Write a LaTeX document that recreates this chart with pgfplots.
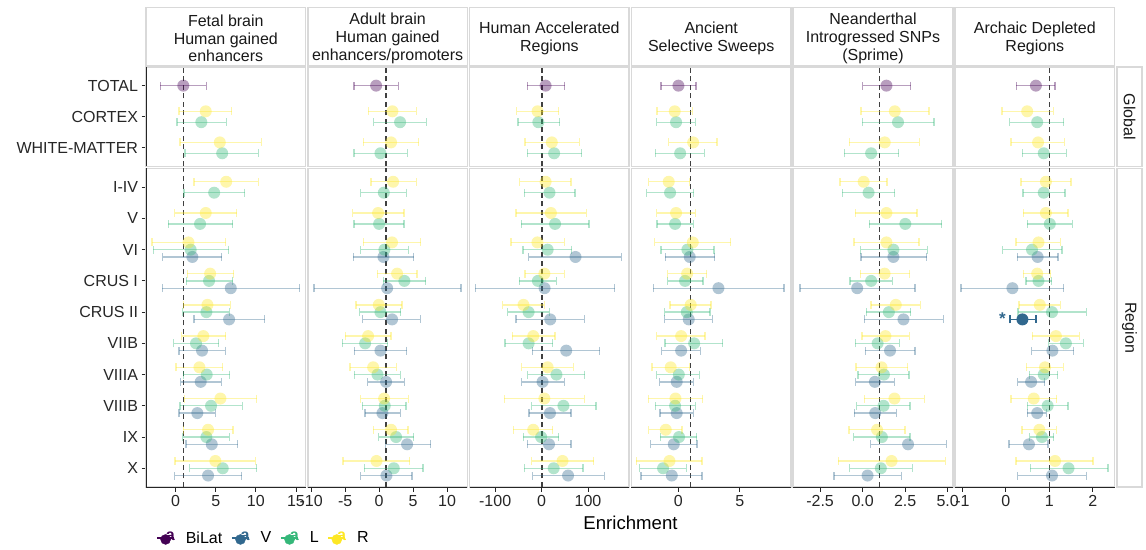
\documentclass[border=0pt]{standalone}
\usepackage{fontspec}
\setmainfont{Liberation Sans}
\usepackage{pgfplots}
\usepackage{pgfplotstable}
\pgfplotsset{compat=1.18}

\definecolor{cB}{HTML}{440154}
\definecolor{cV}{HTML}{31688E}
\definecolor{cL}{HTML}{35B779}
\definecolor{cR}{HTML}{FDE725}

% ---------- Panel a: Fetal brain ----------
\pgfplotstableread{
y x lo hi
13 0.95 -1.9 3.8
}\aB
\pgfplotstableread{
y x lo hi
12.175 3.75 0.4 7.0
11.175 5.5 0.54 10.7
10.175 6.3 2.3 10.3
9.175 3.75 -0.13 7.6
8.233 1.6 -2.96 6.25
7.233 4.3 1.45 7.25
6.233 3.96 1.0 6.8
5.233 3.45 0.75 6.25
4.233 2.96 0.04 5.87
3.233 5.58 1.08 10.1
2.233 4.04 0.95 7.16
1.233 4.95 -0.08 9.95
}\aR
\pgfplotstableread{
y x lo hi
11.825 3.2 0.16 6.3
10.825 5.8 1.16 10.3
9.825 4.8 1.04 8.6
8.825 3.04 -0.9 7.1
8 1.87 -2.8 6.6
7 4.16 1.33 7.1
6 3.83 0.87 6.7
5 2.54 -0.25 5.37
4 3.87 0.95 6.75
3 4.41 0.54 8.33
2 3.83 0.87 6.7
1 5.87 1.75 10.08
}\aL
\pgfplotstableread{
y x lo hi
7.767 2.08 -1.6 5.75
6.767 6.87 -1.67 15.45
5.767 6.66 2.3 11.1
4.767 3.29 0.41 6.2
3.767 3.12 0.62 5.7
2.767 2.7 0.41 4.95
1.767 4.5 1.29 7.75
0.767 4.04 -0.13 8.25
}\aV

% ---------- Panel b: Adult brain ----------
\pgfplotstableread{
y x lo hi
13 -0.44 -3.7 2.84
}\bB
\pgfplotstableread{
y x lo hi
12.175 1.96 -1.57 5.5
11.175 1.76 -2.3 5.83
10.175 2.06 -1.2 5.5
9.175 -0.15 -3.9 3.68
8.233 1.9 -2.35 6.1
7.233 2.65 -0.24 5.6
6.233 -0.05 -3.4 3.38
5.233 -1.62 -5.0 1.76
4.233 -0.88 -4.3 2.55
3.233 0.74 -2.7 4.31
2.233 1.76 -0.83 4.26
1.233 -0.39 -5.3 4.5
}\bR
\pgfplotstableread{
y x lo hi
11.825 3.09 -0.78 6.96
10.825 0.2 -3.68 4.17
9.825 0.69 -2.7 4.0
8.825 0.0 -3.7 3.68
8 0.78 -2.7 4.3
7 3.72 0.64 6.86
6 0.2 -2.84 3.19
5 -2.06 -5.44 1.27
4 -0.24 -3.63 3.14
3 0.83 -2.45 3.97
2 2.5 -0.05 5.1
1 2.16 -2.2 6.47
}\bL
\pgfplotstableread{
y x lo hi
7.767 0.64 -3.8 5.1
6.767 1.18 -9.6 12.06
5.767 1.91 -2.4 6.08
4.767 0.2 -3.63 4.07
3.767 1.03 -1.67 3.73
2.767 0.49 -2.06 3.14
1.767 4.12 0.98 7.6
0.767 1.08 -2.7 4.85
}\bV

% ---------- Panel c: Human Accelerated Regions ----------
\pgfplotstableread{
y x lo hi
13 8.6 -31 50
}\cB
\pgfplotstableread{
y x lo hi
12.175 -8.6 -54 37
11.175 22 -36 81
10.175 8.6 -47 63
9.175 20 -55 96
8.233 -9 -66 49
7.233 6 -36 49
6.233 -39 -84 6
5.233 -18 -63 29
4.233 13 -43 68
3.233 6 -80 92
2.233 -18 -61 24
1.233 45 -21 112
}\cR
\pgfplotstableread{
y x lo hi
11.825 -7 -51 38.6
10.825 27 -31 86
9.825 17 -37 72
8.825 29 -44 102
8 13 -40 65
7 -8 -48 32
6 -28 -73 17
5 -28 -79 24
4 32 -30 93
3 47 -21 117
2 -1 -39 37
1 26 -37 89
}\cL
\pgfplotstableread{
y x lo hi
7.767 73 -28 172
6.767 6.4 -143 157
5.767 18.6 -55 92
4.767 53 -20 125
3.767 2 -43 49
2.767 18 -27 63
1.767 16 -31 63
0.767 57 -19 135
}\cV

% ---------- Panel d: Ancient Selective Sweeps ----------
\pgfplotstableread{
y x lo hi
13 0.0 -1.41 1.44
}\dB
\pgfplotstableread{
y x lo hi
12.175 -0.3 -1.74 1.14
11.175 1.2 -0.79 3.15
10.175 -0.79 -2.42 0.92
9.175 -0.19 -1.77 1.39
8.233 1.17 -1.93 4.26
7.233 0.71 -0.87 2.3
6.233 1.0 -0.68 2.66
5.233 0.22 -1.77 2.17
4.233 -0.63 -2.15 0.92
3.233 -0.24 -2.45 1.98
2.233 -1.03 -2.42 0.3
1.233 -0.73 -3.42 1.93
}\dR
\pgfplotstableread{
y x lo hi
11.825 -0.19 -1.77 1.39
10.825 0.14 -1.87 2.12
9.825 -0.68 -2.58 1.25
8.825 -0.27 -1.74 1.2
8 0.73 -1.41 2.9
7 0.54 -0.87 2.0
6 0.68 -1.12 2.58
5 1.28 -1.09 3.61
4 0.03 -1.77 1.69
3 -0.27 -1.87 1.39
2 0.05 -1.47 1.49
1 -1.25 -3.15 0.65
}\dL
\pgfplotstableread{
y x lo hi
7.767 0.92 -1.06 2.96
6.767 3.26 -2.04 8.6
5.767 0.84 -1.12 2.77
4.767 0.22 -1.36 1.77
3.767 -0.14 -1.52 1.22
2.767 -0.14 -1.49 1.22
1.767 -0.38 -2.26 1.52
0.767 -0.54 -3.04 1.93
}\dV

% ---------- Panel e: Neanderthal SNPs ----------
\pgfplotstableread{
y x lo hi
13 1.4 0.0 2.82
}\eB
\pgfplotstableread{
y x lo hi
12.175 1.89 -0.1 3.9
11.175 1.3 -0.78 3.33
10.175 0.06 -1.33 1.44
9.175 1.4 -0.43 3.2
8.233 1.4 -0.51 3.31
7.233 1.29 -0.14 2.77
6.233 1.95 0.5 3.39
5.233 1.34 -0.04 2.75
4.233 1.11 -0.39 2.65
3.233 1.87 0.1 3.63
2.233 0.85 -0.8 2.49
1.233 1.7 -1.43 4.85
}\eR
\pgfplotstableread{
y x lo hi
11.825 2.08 -0.02 4.19
10.825 0.5 -1.08 2.12
9.825 0.35 -1.19 1.89
8.825 2.51 0.39 4.65
8 1.81 -0.12 3.8
7 0.5 -0.74 1.75
6 1.54 0.21 2.82
5 0.88 -0.43 2.16
4 1.25 -0.27 2.73
3 1.23 -0.35 2.78
2 1.13 -0.53 2.78
1 1.07 -0.76 2.92
}\eL
\pgfplotstableread{
y x lo hi
7.767 1.81 -0.1 3.76
6.767 -0.32 -3.68 3.08
5.767 2.4 0.1 4.74
4.767 1.61 0.15 3.08
3.767 0.72 -0.41 1.87
2.767 0.74 -0.49 1.97
1.767 2.67 0.47 4.91
0.767 0.29 -1.68 2.28
}\eV

% ---------- Panel f: Archaic Depleted Regions ----------
\pgfplotstableread{
y x lo hi
13 0.69 0.24 1.13
}\fB
\pgfplotstableread{
y x lo hi
12.175 0.49 -0.09 1.09
11.175 0.74 0.12 1.34
10.175 0.92 0.35 1.5
9.175 0.92 0.4 1.43
8.233 0.75 0.23 1.25
7.233 0.72 0.4 1.03
6.233 0.78 0.3 1.25
5.233 1.15 0.61 1.69
4.233 0.9 0.47 1.32
3.233 0.64 0.12 1.17
2.233 0.77 0.37 1.16
1.233 1.13 0.23 2.0
}\fR
\pgfplotstableread{
y x lo hi
11.825 0.72 0.09 1.33
10.825 0.87 0.38 1.39
9.825 0.87 0.39 1.36
8.825 1.01 0.49 1.53
8 0.6 -0.07 1.29
7 0.75 0.46 1.05
6 1.06 0.28 1.85
5 1.38 0.98 1.78
4 0.87 0.54 1.19
3 0.96 0.49 1.43
2 0.83 0.55 1.1
1 1.44 0.56 2.35
}\fL
\pgfplotstableread{
y x lo hi
7.767 0.73 0.26 1.2
6.767 0.15 -1.03 1.33
4.767 1.07 0.59 1.56
3.767 0.58 0.27 0.89
2.767 0.72 0.49 0.93
1.767 0.53 0.07 0.97
0.767 1.06 0.27 1.85
}\fV
\pgfplotstableread{
y x lo hi
5.767 0.38 0.1 0.69
}\fVsig

\pgfplotsset{
  table/tbl/.style={x=x, y=y,
    x error plus expr=\thisrow{hi}-\thisrow{x},
    x error minus expr=\thisrow{x}-\thisrow{lo}},
  ser/.style={only marks, mark=*, mark size=6pt, forget plot,
    mark options={fill=#1, fill opacity=0.38, draw opacity=0},
    error bars/x dir=both, error bars/x explicit,
    error bars/error bar style={draw=#1, line width=1.3pt, opacity=0.38},
    error bars/error mark=|,
    error bars/error mark options={draw=#1, line width=1.3pt, mark size=4pt, opacity=0.38}},
  sig/.style={only marks, mark=*, mark size=6pt, forget plot,
    mark options={fill=#1, draw opacity=0},
    error bars/x dir=both, error bars/x explicit,
    error bars/error bar style={draw=#1, line width=1.5pt},
    error bars/error mark=|,
    error bars/error mark options={draw=#1, line width=1.5pt, mark size=4pt}},
  vline/.style={forget plot, draw=black!75, line width=1.3pt, dash pattern=on 5pt off 3.5pt, no marks},
  gsel/.style={restrict y to domain=10.7:14},
  rsel/.style={restrict y to domain=0:10.65},
  facet/.style={
    scale only axis, width=159.6pt, anchor=south west,
    axis line style={draw=black!15, line width=1.6pt},
    tick align=outside, major tick length=4.5pt, tick pos=left,
    tick style={black!85, line width=0.9pt},
    tick label style={font=\fontsize{16}{18}\selectfont, text=black!85},
    /pgf/number format/assume math mode=true,
  },
  growstyle/.style={facet, height=99.5pt, ymin=10.4, ymax=13.6, xtick=\empty, ytick=\empty},
  rrowstyle/.style={facet, height=318.5pt, ymin=0.4, ymax=10.6, ytick=\empty,
    after end axis/.append code={\draw[black!85, line width=0.9pt] (rel axis cs:0,0) -- (rel axis cs:1,0);}},
  leftcol/.style={after end axis/.append code={\draw[black!85, line width=0.9pt] (rel axis cs:0,0) -- (rel axis cs:0,1);}},
}

% #1 B table, #2 R table, #3 L table, #4 left x, #5 xmin, #6 xmax, #7 options
\newcommand{\growaxis}[7]{%
\begin{axis}[growstyle, at={(#4pt,382.5pt)}, xmin=#5, xmax=#6, #7]
  \addplot[vline] coordinates {(1,10.4) (1,13.6)};
  \addplot[ser=cB, gsel] table[tbl] {#1};
  \addplot[ser=cL, gsel] table[tbl] {#3};
  \addplot[ser=cR, gsel] table[tbl] {#2};
\end{axis}}

% #1 R, #2 L, #3 V, #4 left x, #5 xmin, #6 xmax, #7 options, #8 extra body
\newcommand{\rrowaxis}[8]{%
\begin{axis}[rrowstyle, at={(#4pt,62pt)}, xmin=#5, xmax=#6, #7]
  #8
  \addplot[vline] coordinates {(1,0.4) (1,10.6)};
  \addplot[ser=cV, rsel] table[tbl] {#3};
  \addplot[ser=cL, rsel] table[tbl] {#2};
  \addplot[ser=cR, rsel] table[tbl] {#1};
\end{axis}}

\newcommand{\keyimg}[1]{%
  \draw[#1, line width=1.4pt] (0pt,0pt) -- (17pt,0pt);
  \fill[#1] (8.5pt,-1.5pt) circle (5pt);
  \node[text=#1, inner sep=0pt, font=\bfseries\fontsize{16}{16}\selectfont] at (8.5pt,1pt) {a};}

\newcommand{\strip}[2]{%
  \pgfmathsetmacro{\Rr}{#1+159.6}
  \pgfmathsetmacro{\Cc}{#1+79.8}
  \draw[black!15, line width=1.6pt, fill=white] (#1pt,483.5pt) rectangle (\Rr pt,541.5pt);
  \node[align=center, font=\fontsize{16}{17.7}\selectfont, text=black!90] at (\Cc pt,510.7pt) {#2};}

\begin{document}
\begin{tikzpicture}
\useasboundingbox (0,0) rectangle (1146pt,549pt);

% ---- Global row ----
\growaxis{\aB}{\aR}{\aL}{146}{-3.7}{16.2}{leftcol, ytick={11,12,13}, yticklabels={WHITE-MATTER,CORTEX,TOTAL}}
\growaxis{\bB}{\bR}{\bL}{307.8}{-10.5}{13.0}{}
\growaxis{\cB}{\cR}{\cL}{469.6}{-155}{188.6}{}
\growaxis{\dB}{\dR}{\dL}{631.4}{-3.83}{9.17}{}
\growaxis{\eB}{\eR}{\eL}{793.2}{-4.08}{5.3}{}
\growaxis{\fB}{\fR}{\fL}{955}{-1.17}{2.5}{}

% ---- Region row ----
\rrowaxis{\aR}{\aL}{\aV}{146}{-3.7}{16.2}{leftcol, xtick={0,5,10,15},
  ytick={1,...,10}, yticklabels={X,IX,VIIIB,VIIIA,VIIB,CRUS II,CRUS I,VI,V,I-IV},
  legend style={at={(axis description cs:0.064,-0.16)}, anchor=west, draw=none, fill=none,
    font=\fontsize{16}{18}\selectfont, inner sep=0pt,
    /tikz/every even column/.append style={column sep=7pt},
    /tikz/every odd column/.append style={column sep=9pt}},
  legend columns=-1, legend cell align=left}{%
  \addlegendimage{legend image code/.code={\keyimg{cB}}}\addlegendentry{BiLat}
  \addlegendimage{legend image code/.code={\keyimg{cV}}}\addlegendentry{V}
  \addlegendimage{legend image code/.code={\keyimg{cL}}}\addlegendentry{L}
  \addlegendimage{legend image code/.code={\keyimg{cR}}}\addlegendentry{R}}
\rrowaxis{\bR}{\bL}{\bV}{307.8}{-10.5}{13.0}{xtick={-10,-5,0,5,10}}{}
\rrowaxis{\cR}{\cL}{\cV}{469.6}{-155}{188.6}{xtick={-100,0,100}}{}
\rrowaxis{\dR}{\dL}{\dV}{631.4}{-3.83}{9.17}{xtick={0,5}}{}
\rrowaxis{\eR}{\eL}{\eV}{793.2}{-4.08}{5.3}{xtick={-2.5,0,2.5,5},
  xticklabel style={/pgf/number format/.cd, fixed, fixed zerofill, precision=1}}{}
\rrowaxis{\fR}{\fL}{\fV}{955}{-1.17}{2.5}{xtick={-1,0,1,2}}{%
  \addplot[sig=cV] table[tbl] {\fVsig};
  \node[text=cV, inner sep=0pt, font=\bfseries\fontsize{17}{17}\selectfont] at (axis cs:-0.08,5.8) {*};}

% ---- strips ----
\strip{146}{Fetal brain\\Human gained\\enhancers}
\strip{307.8}{Adult brain\\Human gained\\enhancers/promoters}
\strip{469.6}{Human Accelerated\\Regions}
\strip{631.4}{Ancient\\Selective Sweeps}
\strip{793.2}{Neanderthal\\Introgressed SNPs\\(Sprime)}
\strip{955}{Archaic Depleted\\Regions}
\draw[black!15, line width=1.6pt, fill=white] (1117pt,382.5pt) rectangle (1142pt,482pt);
\node[rotate=-90, font=\fontsize{16}{18}\selectfont, text=black!90] at (1129.5pt,432.25pt) {Global};
\draw[black!15, line width=1.6pt, fill=white] (1117pt,62pt) rectangle (1142pt,380.5pt);
\node[rotate=-90, font=\fontsize{16}{18}\selectfont, text=black!90] at (1129.5pt,221.25pt) {Region};

\node[font=\fontsize{18.6}{20}\selectfont] at (630.5pt,26pt) {Enrichment};
\end{tikzpicture}
\end{document}
